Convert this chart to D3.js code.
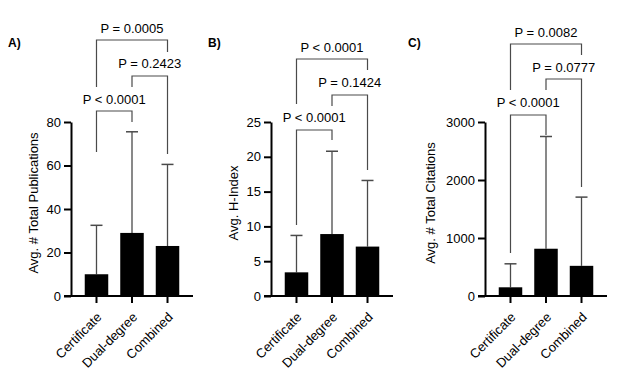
<!DOCTYPE html>
<html><head><meta charset="utf-8">
<script src="https://cdn.jsdelivr.net/npm/d3@7"></script>
<style>
html,body{margin:0;padding:0;background:#fff;}
text{font-family:"Liberation Sans",Arial,sans-serif;}
</style></head>
<body><svg id="c" width="624" height="388"></svg>
<script>
// ---- data ----
const categories = ["Certificate", "Dual-degree", "Combined"];
const panelLabels = ["A)", "B)", "C)"];
const yTitles = ["Avg. # Total Publications", "Avg. H-Index", "Avg. # Total Citations"];
const yMax = [80, 25, 3000];
const yTicks = [[0, 20, 40, 60, 80], [0, 5, 10, 15, 20, 25], [0, 1000, 2000, 3000]];
const pubMean = [10, 29, 23];
const pubSD = [22.5, 46.5, 37.5];
const hMean = [3.4, 8.9, 7.1];
const hSD = [5.3, 11.9, 9.5];
const citMean = [150, 815, 520];
const citSD = [405, 1935, 1185];
const means = [pubMean, hMean, citMean];
const sds = [pubSD, hSD, citSD];
// comparisons: [from, to]
const compPairs = [["Certificate", "Dual-degree"], ["Dual-degree", "Combined"], ["Certificate", "Combined"]];
const pubP = ["P < 0.0001", "P = 0.2423", "P = 0.0005"];
const hP = ["P < 0.0001", "P = 0.1424", "P < 0.0001"];
const citP = ["P < 0.0001", "P = 0.0777", "P = 0.0082"];
const pLabels = [pubP, hP, citP];

// ---- layout (pixels) ----
const axisX = [71, 271, 485];
const titleX = [38, 238, 435];
const labelX = [8, 208, 408];
const yTop = 122, yBot = 296;
// bracket geometry per panel: [lineY, leftLegEnd, rightLegEnd, labelY]
const brLayout = [
  [[111, 152, 122, 99], [76, 87, 154, 63], [40, 87, 52, 28]],
  [[130, 225, 140, 117], [95, 106, 170, 82], [59, 104, 70, 47]],
  [[115, 253, 135, 102], [79, 90, 187, 67], [44, 90, 55, 32]]
];
const gray = "#4a4a4a";
const svg = d3.select("#c");

for (let p = 0; p < 3; p++) {
  const ax = axisX[p];
  const g = svg.append("g");
  const x = d3.scaleBand().domain(categories).range([ax, ax + 122]).paddingInner(0.338).paddingOuter(0.387);
  const y = d3.scaleLinear().domain([0, yMax[p]]).range([yBot, yTop]);
  const data = categories.map((c, i) => ({c, m: means[p][i], s: sds[p][i]}));

  // error bars (drawn behind bars)
  data.forEach(d => {
    const cx = x(d.c) + x.bandwidth() / 2;
    g.append("line").attr("x1", cx).attr("x2", cx).attr("y1", y(d.m)).attr("y2", y(d.m + d.s))
      .attr("stroke", gray).attr("stroke-width", 1.3);
    g.append("line").attr("x1", cx - 6).attr("x2", cx + 6).attr("y1", y(d.m + d.s)).attr("y2", y(d.m + d.s))
      .attr("stroke", gray).attr("stroke-width", 1.5);
  });
  // bars
  g.selectAll("rect.bar").data(data).enter().append("rect")
    .attr("x", d => x(d.c)).attr("width", x.bandwidth())
    .attr("y", d => y(d.m)).attr("height", d => yBot - y(d.m))
    .attr("fill", "#000");

  // y axis
  const ya = g.append("g").attr("transform", `translate(${ax},0)`)
    .call(d3.axisLeft(y).tickValues(yTicks[p]).tickFormat(d3.format("d")).tickSize(7).tickPadding(3).tickSizeOuter(0));
  ya.select(".domain").attr("stroke", "#000").attr("stroke-width", 2);
  ya.selectAll(".tick line").attr("stroke", "#000").attr("stroke-width", 2);
  ya.selectAll(".tick text").attr("font-size", 13).attr("fill", "#000")
    .attr("font-family", "Liberation Sans, Arial, sans-serif");

  // x axis
  const xa = g.append("g").attr("transform", `translate(0,${yBot})`)
    .call(d3.axisBottom(x).tickSize(7).tickSizeOuter(0));
  xa.select(".domain").attr("d", `M${ax - 7},0H${ax + 122}`).attr("stroke", "#000").attr("stroke-width", 2);
  xa.selectAll(".tick line").attr("stroke", "#000").attr("stroke-width", 2);
  xa.selectAll(".tick text").attr("font-size", 13).attr("fill", "#000")
    .attr("font-family", "Liberation Sans, Arial, sans-serif")
    .attr("text-anchor", "end").attr("y", 0).attr("dy", 0)
    .attr("transform", "translate(6,22) rotate(-45)");

  // y title
  g.append("text").attr("transform", `translate(${titleX[p]},203) rotate(-90)`)
    .attr("text-anchor", "middle").attr("font-size", 13).attr("fill", "#000").text(yTitles[p]);

  // panel label
  g.append("text").attr("x", labelX[p]).attr("y", 47).attr("font-size", 12).attr("font-weight", "bold")
    .attr("fill", "#000").text(panelLabels[p]);

  // brackets
  compPairs.forEach((pair, k) => {
    const [ly, le, re, ty] = brLayout[p][k];
    const x1 = x(pair[0]) + x.bandwidth() / 2, x2 = x(pair[1]) + x.bandwidth() / 2;
    g.append("path").attr("d", `M${x1},${le}V${ly}H${x2}V${re}`)
      .attr("fill", "none").attr("stroke", gray).attr("stroke-width", 1.2);
    g.append("text").attr("x", (x1 + x2) / 2).attr("y", ty).attr("dy", "0.35em")
      .attr("text-anchor", "middle").attr("font-size", 13).attr("fill", "#000").text(pLabels[p][k]);
  });
}
</script></body></html>
